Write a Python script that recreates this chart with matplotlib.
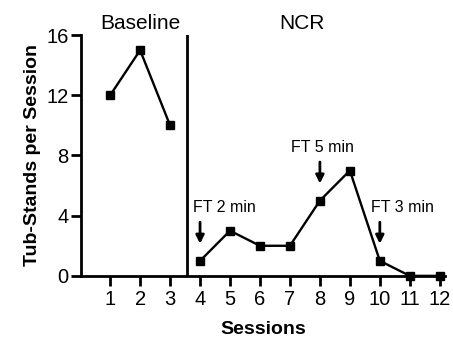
import matplotlib.pyplot as plt

plt.rcParams['font.family'] = ['Liberation Sans', 'DejaVu Sans']

base_sessions = [1, 2, 3]
base_values = [12, 15, 10]
ncr_sessions = [4, 5, 6, 7, 8, 9, 10, 11, 12]
ncr_values = [1, 3, 2, 2, 5, 7, 1, 0, 0]
yticks = [0, 4, 8, 12, 16]
xticks = list(range(1, 13))
notes = ["FT 2 min", "FT 5 min", "FT 3 min"]
note_sessions = [4, 8, 10]
note_values = [1, 5, 1]


def main():
    fig = plt.figure(figsize=(4.53, 3.41), dpi=100)
    ax = fig.add_axes([0.179, 0.191, 0.803, 0.706])

    ax.plot(base_sessions, base_values, color="black", lw=1.7, marker="s", ms=6.3, clip_on=False)
    ax.plot(ncr_sessions, ncr_values, color="black", lw=1.7, marker="s", ms=6.3, clip_on=False)
    ax.plot([3.55, 3.55], [0, 16], color="black", lw=2)

    # text offsets (left edge relative to arrow)
    text_dx = [-0.23, -0.97, -0.31]
    for text, s, v, dx in zip(notes, note_sessions, note_values, text_dx):
        ax.annotate("", xy=(s, v + 0.95), xytext=(s, v + 2.75),
                    arrowprops=dict(arrowstyle="-|>", color="black", lw=2, mutation_scale=12))
        ax.text(s + dx, v + 3.55, text, fontsize=11.5, ha="left", va="center")

    ax.text(2.0, 16.75, "Baseline", fontsize=15, ha="center", va="center")
    ax.text(7.4, 16.75, "NCR", fontsize=15, ha="center", va="center")

    ax.set_xlim(0.03, 12.17)
    ax.set_ylim(0, 16)
    ax.set_xticks(xticks)
    ax.set_yticks(yticks)
    ax.tick_params(axis="both", labelsize=14.5, width=2, length=7, direction="out")
    ax.tick_params(axis="y", pad=2)
    for side in ["top", "right"]:
        ax.spines[side].set_visible(False)
    for side in ["left", "bottom"]:
        ax.spines[side].set_linewidth(2)

    ax.set_xlabel("Sessions", fontsize=14, fontweight="bold", labelpad=8)
    ax.set_ylabel("Tub-Stands per Session", fontsize=14, fontweight="bold", labelpad=4)

    fig.savefig("out.png", dpi=100)


if __name__ == "__main__":
    main()
